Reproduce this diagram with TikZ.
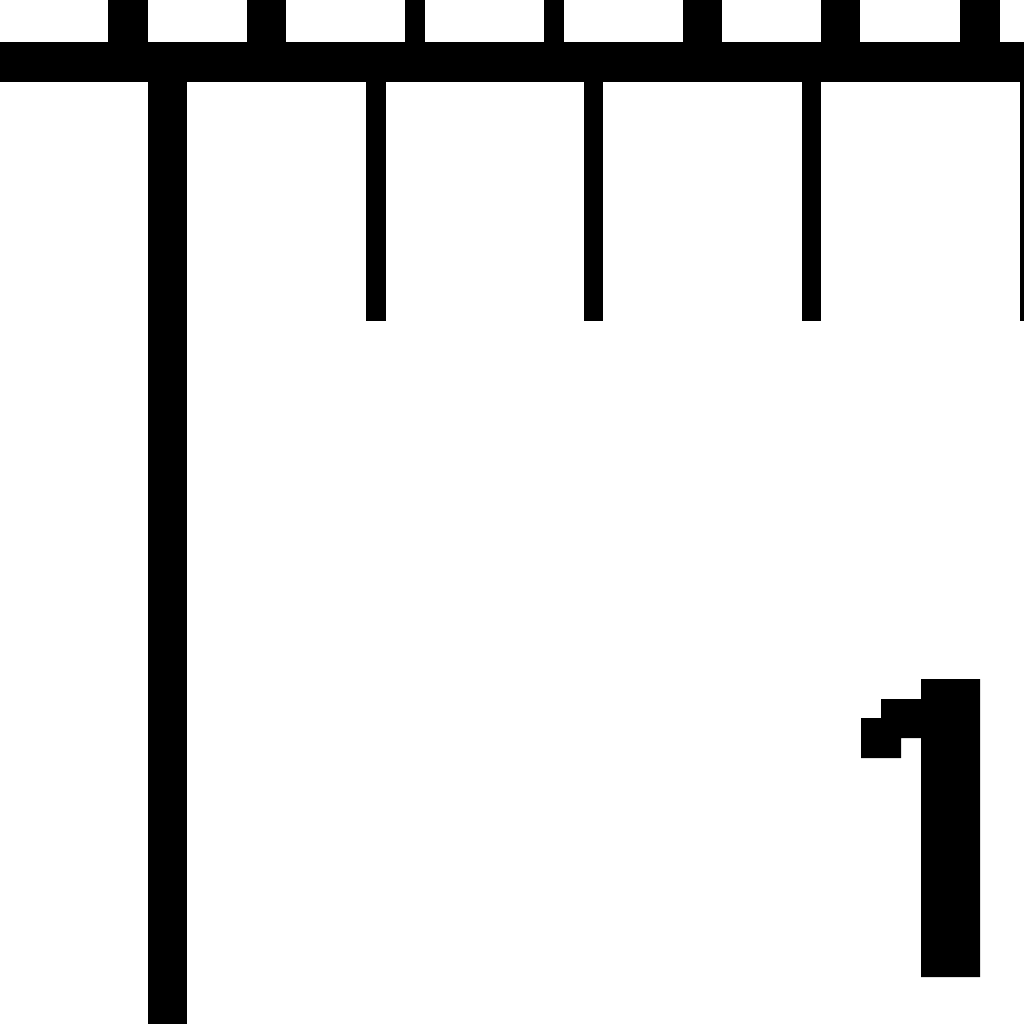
\documentclass[tikz,border=0pt]{standalone}
\begin{document}
\begin{tikzpicture}[x=1pt,y=-1pt,px/.style={fill=black,draw=none}]
\useasboundingbox[fill=white] (0,0) rectangle (1024,1024);
% top small ticks
\foreach \a/\b in {108/148,247/286,405/425,544/564,683/722,821/860,960/1000}
  \fill[px] (\a,0) rectangle (\b,42);
% horizontal bar
\fill[px] (0,42) rectangle (1024,82);
% vertical bar
\fill[px] (148,82) rectangle (187,1024);
% long ticks
\foreach \a/\b in {366/386,584/603,802/821,1020/1024}
  \fill[px] (\a,82) rectangle (\b,321);
% pixel digit 1
\fill[px] (921,679) -- (980,679) -- (980,977) -- (921,977) -- (921,738)
  -- (901,738) -- (901,758) -- (861,758) -- (861,718) -- (881,718)
  -- (881,699) -- (921,699) -- cycle;
\end{tikzpicture}
\end{document}
